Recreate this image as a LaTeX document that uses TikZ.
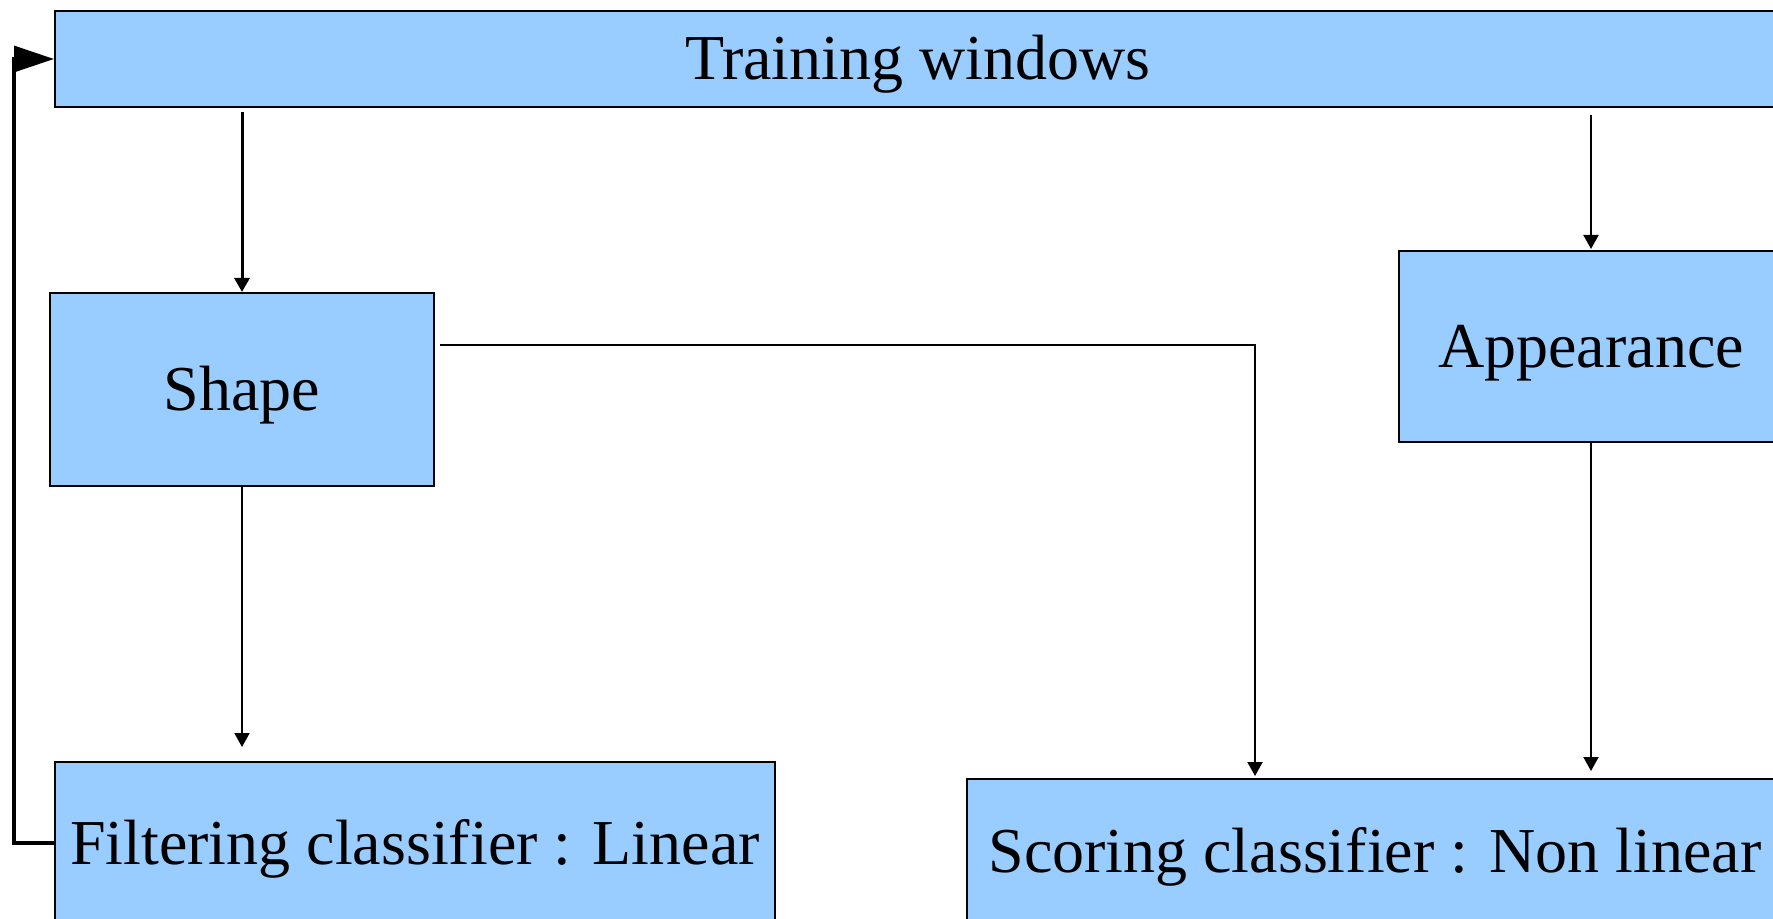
\documentclass[tikz,border=0pt]{standalone}
\usepackage{fontspec}
\setmainfont{Liberation Serif}
\usetikzlibrary{arrows.meta}
\definecolor{boxblue}{HTML}{99CCFF}
\tikzset{
  blockbox/.style={draw=black, line width=1pt, fill=boxblue, inner sep=0pt,
    font=\fontsize{32}{38}\selectfont, anchor=center, text height=24pt, text depth=3pt},
  arr/.style={line width=1pt, -{Triangle[length=7pt,width=7.5pt]}},
  fbarr/.style={line width=1.6pt, -{Triangle[length=20pt,width=13pt]}}
}
\begin{document}
\begin{tikzpicture}[x=0.5pt,y=-0.5pt]
\useasboundingbox (0,0) rectangle (1773,919);
\node[blockbox, minimum width=863pt, minimum height=48pt] (tw) at (918,59) {Training windows};
\node[blockbox, minimum width=192pt, minimum height=96.5pt] (shape) at (242,389.5) {Shape};
\node[blockbox, minimum width=192pt, minimum height=95.5pt] (app) at (1591,346.5) {Appearance};
\node[blockbox, minimum width=360pt, minimum height=81pt] (filt) at (415,843) {Filtering classifier : Linear};
\node[blockbox, minimum width=408pt, minimum height=72pt] (score) at (1375,851) {Scoring classifier : Non linear};

\draw[arr, line width=1.5pt, shorten <=2pt] (shape.north |- tw.south) -- (shape.north);
\draw[arr, shorten <=3.5pt, shorten >=0.5pt] (app.north |- tw.south) -- (app.north);
\draw[arr, shorten >=7pt] (shape.south) -- (shape.south |- filt.north);
\draw[arr, shorten >=3.5pt] (app.south) -- (app.south |- score.north);
\draw[arr, shorten <=2.5pt, shorten >=1pt] ([yshift=22.25pt]shape.east) -| ([xshift=-60pt]score.north);
\draw[fbarr] (filt.west) -- ++(-20pt,0) |- (tw.west);
\end{tikzpicture}
\end{document}
